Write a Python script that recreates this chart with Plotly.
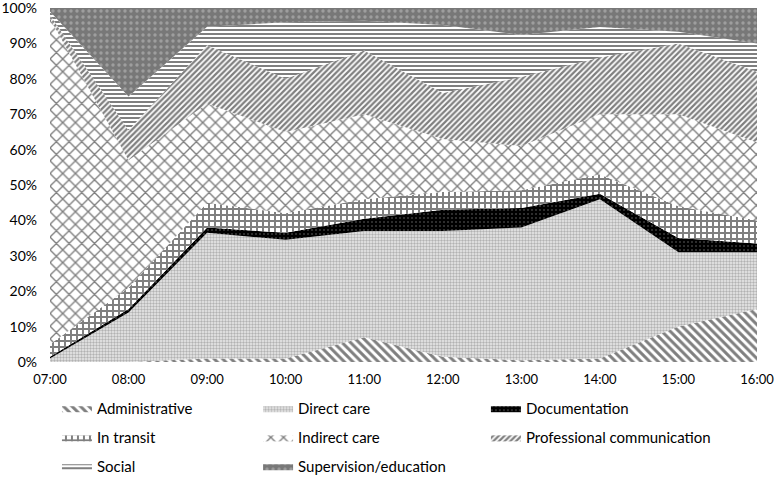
import plotly.graph_objects as go

hours = ["07:00", "08:00", "09:00", "10:00", "11:00", "12:00", "13:00", "14:00", "15:00", "16:00"]

administrative = [0, 0, 1, 1, 7, 1.5, 0.5, 1, 10, 15]
direct_care = [1, 14, 35.5, 33.5, 30, 35.5, 37.5, 45, 21, 16]
documentation = [0.5, 1, 1.5, 2, 3.5, 6, 5.5, 1.5, 4, 2.5]
in_transit = [3.5, 6, 7, 5.5, 5.5, 5, 5, 5.5, 9, 6.5]
indirect_care = [92, 36, 28, 23, 24, 15, 12.5, 17, 26, 22]
prof_comm = [1, 8.5, 16.5, 15, 18, 13, 19.5, 16, 20, 20]
social = [1, 9.5, 5.2, 16, 8.4, 19.2, 11.9, 8.6, 3.3, 8]
supervision = [1, 25, 5.3, 4, 3.6, 4.8, 7.6, 5.4, 6.7, 10]

pct_ticks = list(range(0, 101, 10))

# name, values, fill pattern
series = [
    ("Administrative", administrative, dict(shape="\\", fgcolor="black", bgcolor="white", size=6, solidity=0.5)),
    ("Direct care", direct_care, dict(shape=".", fgcolor="#777", bgcolor="#ececec", size=3, solidity=0.5)),
    ("Documentation", documentation, dict(shape=".", fgcolor="#777", bgcolor="black", size=4, solidity=0.2)),
    ("In transit", in_transit, dict(shape="+", fgcolor="black", bgcolor="white", size=6, solidity=0.55)),
    ("Indirect care", indirect_care, dict(shape="x", fgcolor="black", bgcolor="white", size=9, solidity=0.28)),
    ("Professional communication", prof_comm, dict(shape="/", fgcolor="black", bgcolor="white", size=4, solidity=0.55)),
    ("Social", social, dict(shape="-", fgcolor="black", bgcolor="white", size=4, solidity=0.5)),
    ("Supervision/education", supervision, dict(shape=".", fgcolor="#c4c4c4", bgcolor="#787878", size=6, solidity=0.25)),
]

# legend grid: 3 columns x 3 rows, container coords
col_x = [0.0735, 0.333, 0.627]
row_y = [0.180, 0.119, 0.0586]

fig = go.Figure()
legends = {}
for i, (name, vals, pat) in enumerate(series):
    key = "legend" if i == 0 else f"legend{i + 1}"
    fig.add_trace(go.Scatter(
        x=hours, y=vals, name=name, mode="lines", stackgroup="one", groupnorm="percent",
        line=dict(width=0, color=pat["fgcolor"]), fillpattern=pat, fillcolor=pat["bgcolor"],
        legend=key,
    ))
    legends[key] = dict(x=col_x[i % 3], y=row_y[i // 3], xref="container", yref="container",
                        xanchor="left", yanchor="top",
                        font=dict(size=15), itemwidth=30, bgcolor="rgba(0,0,0,0)")

fig.update_layout(
    width=775, height=478,
    margin=dict(l=50, r=18, t=8, b=116, autoexpand=False),
    plot_bgcolor="white", paper_bgcolor="white",
    font=dict(family="Lato", size=14, color="black"),
    showlegend=True,
    **legends,
)
fig.update_xaxes(type="category", range=[0, 9], showgrid=False, showline=False, automargin=False,
                 ticks="", ticklabelstandoff=8, tickfont=dict(size=13))
fig.update_yaxes(range=[0, 100], tickvals=pct_ticks, ticktext=[f"{v}%" for v in pct_ticks],
                 showgrid=False, showline=False, zeroline=False, ticklabeloverflow="allow",
                 automargin=False, ticklabelstandoff=12, tickfont=dict(size=14))

fig.write_html("out.html", config={"displayModeBar": False},
               post_script="document.body.style.margin='0';")
